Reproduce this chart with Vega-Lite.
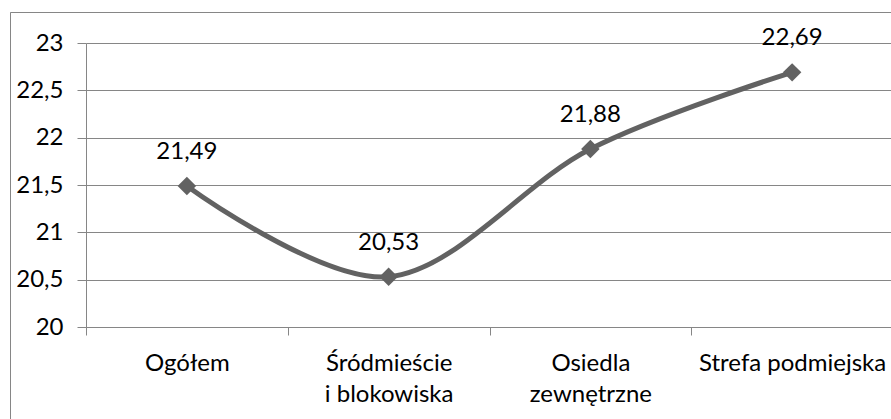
{
  "$schema": "https://vega.github.io/schema/vega-lite/v6.json",
  "width": 881,
  "height": 407,
  "autosize": {"type": "none"},
  "padding": {"left": 10, "top": 12, "right": 0, "bottom": 0},
  "background": "white",
  "data": {
    "values": [
      {"kategoria": "Ogółem", "wartosc": 21.49},
      {"kategoria": "Śródmieście\ni blokowiska", "wartosc": 20.53},
      {"kategoria": "Osiedla\nzewnętrzne", "wartosc": 21.88},
      {"kategoria": "Strefa podmiejska", "wartosc": 22.69}
    ]
  },
  "encoding": {
    "x": {
      "field": "kategoria",
      "type": "nominal",
      "sort": null,
      "scale": {"type": "band", "range": [76, 883], "paddingInner": 0, "paddingOuter": 0},
      "axis": {
        "title": null,
        "orient": "bottom",
        "offset": -92,
        "labelAngle": 0,
        "tickBand": "extent",
        "tickSize": 8,
        "tickColor": "#868686",
        "domainColor": "#868686",
        "labelPadding": 16,
        "labelLineHeight": 31,
        "labelFont": "Lato",
        "labelFontSize": 24,
        "labelLimit": 400,
        "labelOverlap": false,
        "labelColor": "#000000",
        "labelExpr": "split(datum.label, '\\n')",
        "grid": false
      }
    },
    "y": {
      "field": "wartosc",
      "type": "quantitative",
      "scale": {"domain": [20, 23], "range": [315, 31], "nice": false, "zero": false},
      "axis": {
        "title": null,
        "orient": "left",
        "offset": -76,
        "values": [20, 20.5, 21, 21.5, 22, 22.5, 23],
        "format": "~f",
        "tickSize": 9,
        "tickColor": "#868686",
        "domainColor": "#868686",
        "grid": true,
        "gridColor": "#868686",
        "gridWidth": 1,
        "labelPadding": 14,
        "labelFont": "Lato",
        "labelFontSize": 24,
        "labelColor": "#000000"
      }
    }
  },
  "layer": [
    {
      "mark": {"type": "line", "interpolate": "cardinal", "tension": 0, "color": "#626262", "strokeWidth": 5}
    },
    {
      "mark": {"type": "point", "shape": "diamond", "filled": true, "size": 340, "color": "#626262", "opacity": 1}
    },
    {
      "mark": {"type": "text", "dy": -27, "baseline": "alphabetic", "align": "center", "font": "Lato", "fontSize": 24, "color": "#000000"},
      "encoding": {"text": {"field": "wartosc", "type": "quantitative", "format": ".2f"}}
    }
  ],
  "config": {
    "locale": {
      "number": {"decimal": ",", "thousands": " ", "grouping": [3], "currency": ["", " zł"]}
    },
    "view": {"stroke": "#868686", "strokeWidth": 1, "strokeDash": [881, 1288, 407, 1]}
  }
}
